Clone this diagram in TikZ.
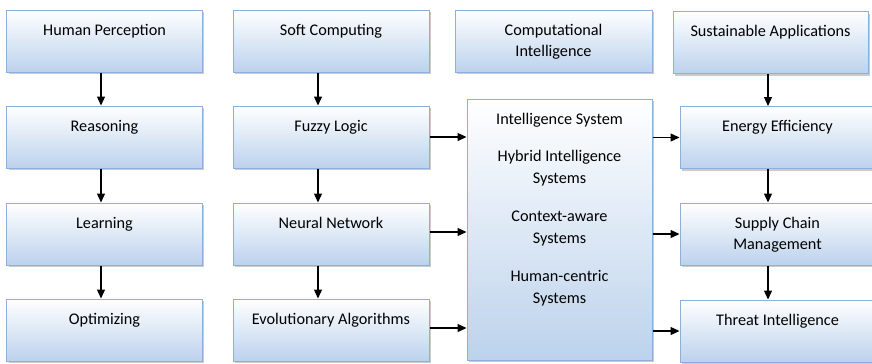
\documentclass[tikz,border=0pt]{standalone}
\usepackage{fontspec}
\setmainfont{Carlito}
\usepackage{xcolor}
\usepackage{tikz}
\usetikzlibrary{arrows.meta,shadows}
\definecolor{boxblue}{RGB}{188,210,236}
\definecolor{boxedge}{RGB}{142,176,216}
\newcommand{\twoline}[2]{\begin{tabular}[t]{@{}c@{}}#1\\#2\end{tabular}}
\tikzset{
  block/.style={rectangle, draw=boxedge, line width=1bp, top color=white, bottom color=boxblue,
    drop shadow={shadow xshift=1.8bp, shadow yshift=-2.2bp, fill=black!45, opacity=0.45},
    inner xsep=4bp, inner ysep=6bp, minimum width=195bp, text height=19bp, text depth=31bp,
    font=\fontsize{16.3}{22}\selectfont},
  bigblock/.style={block, minimum width=185bp, text depth=230bp},
  flow/.style={-{Triangle[length=9bp,width=8bp]}, line width=1.3bp, draw=black}
}
\begin{document}
\begin{tikzpicture}[x=1bp, y=-1bp]
  \useasboundingbox (0,0) rectangle (872,363);
  % first column
  \node[block] (hp) at (104.5,41) {Human Perception};
  \node[block] (rs) at (104.5,137) {Reasoning};
  \node[block] (lr) at (104.5,234) {Learning};
  \node[block] (op) at (104.5,330) {Optimizing};

  % second column
  \node[block, minimum width=196bp] (sc) at (331,41) {Soft Computing};
  \node[block, minimum width=196bp] (fl) at (331,137) {Fuzzy Logic};
  \node[block, minimum width=196bp] (nn) at (331,234) {Neural Network};
  \node[block, minimum width=196bp] (ea) at (331,330) {Evolutionary Algorithms};

  % third column
  \node[block, minimum width=197bp] (ci) at (553.5,41) {\twoline{Computational}{Intelligence}};
  \node[bigblock] (is) at (559.5,229.5) {\begin{tabular}[t]{@{}c@{}}Intelligence System\\[16bp]
    Hybrid Intelligence\\Systems\\[16bp]Context-aware\\Systems\\[16bp]Human-centric\\Systems\end{tabular}};

  % fourth column
  \node[block] (sa) at (770.5,42.5) {Sustainable Applications};
  \node[block] (ee) at (777.5,137.5) {Energy Efficiency};
  \node[block] (scm) at (777.5,234) {\twoline{Supply Chain}{Management}};
  \node[block] (ti) at (777.5,331) {Threat Intelligence};

  % downward links
  \draw[flow] ([xshift=-3.5bp]hp.south) -- ([xshift=-3.5bp]rs.north);
  \draw[flow] ([xshift=-3.5bp]rs.south) -- ([xshift=-3.5bp]lr.north);
  \draw[flow] ([xshift=-3.5bp]lr.south) -- ([xshift=-3.5bp]op.north);
  \draw[flow] ([xshift=-13bp]sc.south) -- ([xshift=-13bp]fl.north);
  \draw[flow] ([xshift=-13bp]fl.south) -- ([xshift=-13bp]nn.north);
  \draw[flow] ([xshift=-13bp]nn.south) -- ([xshift=-13bp]ea.north);
  \draw[flow] ([xshift=-2.5bp]sa.south) -- ([xshift=-2.5bp]sa.south |- ee.north);
  \draw[flow] ([xshift=-9.5bp]ee.south) -- ([xshift=-9.5bp]scm.north);
  \draw[flow] ([xshift=-9.5bp]scm.south) -- ([xshift=-9.5bp]ti.north);

  % into and out of the systems box
  \draw[flow] (fl.east) -- (fl.east -| is.west);
  \draw[flow] ([yshift=2bp]nn.east) -- ([yshift=2bp]nn.east -| is.west);
  \draw[flow] ([yshift=2bp]ea.east) -- ([yshift=2bp]ea.east -| is.west);
  \draw[flow] (is.east |- ee.west) -- (ee.west);
  \draw[flow] (is.east |- scm.west) -- (scm.west);
  \draw[flow] (is.east |- ti.west) -- (ti.west);
\end{tikzpicture}
\end{document}
